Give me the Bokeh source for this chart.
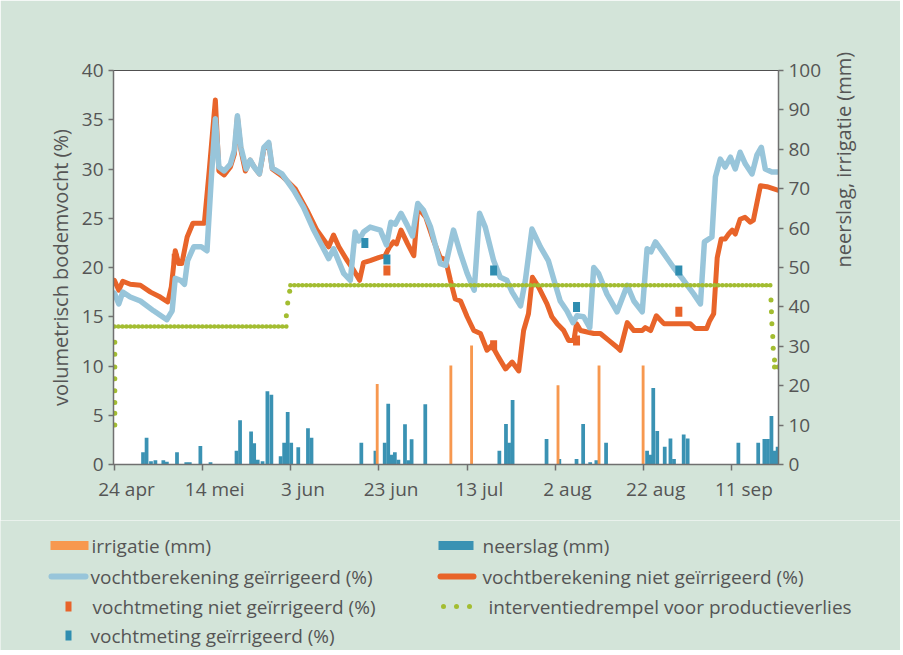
import math
from bokeh.plotting import figure
from bokeh.models import Range1d, LinearAxis, FixedTicker
from bokeh.core.properties import value
from bokeh.embed import file_html
from bokeh.resources import INLINE

# ---------------- data (x = days since 24 apr) ----------------
tick_days = [0, 20, 40, 60, 80, 100, 120, 140]
tick_labels = ["24 apr", "14 mei", "3 jun", "23 jun", "13 jul", "2 aug", "22 aug", "11 sep"]

rain_days = [6.5, 7.3, 8.3, 9.3, 11.1, 11.9, 14.2, 16.3, 17.1, 19.5,
             21.8, 27.7, 28.5, 31.0, 31.7, 32.5, 33.6, 34.7, 35.6, 37.7,
             38.5, 39.3, 40.1, 41.7, 43.9, 44.7, 56.0, 59.2, 61.3, 62.1,
             62.9, 63.6, 64.4, 65.9, 66.7, 67.4, 70.5, 87.3, 88.8, 89.5,
             90.3, 98.0, 100.9, 104.8, 106.3, 107.9, 109.3, 111.5, 120.8, 121.5,
             122.2, 123.1, 124.8, 126.1, 126.9, 129.1, 130.0, 141.5, 146.0, 147.4,
             148.2, 149.0, 149.7, 150.4]
rain_mm = [3.1, 6.8, 0.8, 1.1, 1.1, 0.7, 3.1, 0.6, 0.6, 4.7,
           0.6, 3.5, 11.2, 8.4, 5.4, 1.2, 0.8, 18.6, 17.7, 2.1,
           5.5, 13.3, 5.5, 4.4, 9.2, 6.8, 5.5, 3.5, 5.5, 15.4,
           2.5, 3.1, 1.2, 10.2, 1.1, 6.4, 15.3, 3.5, 10.3, 5.5,
           16.4, 6.5, 1.4, 1.4, 10.3, 0.6, 1.1, 5.5, 3.5, 2.5,
           19.4, 8.5, 4.5, 6.6, 1.4, 7.6, 6.6, 5.5, 5.5, 6.5,
           6.5, 12.3, 3.5, 4.5]

irr_days = [59.6, 76.3, 81.0, 100.6, 109.9, 119.9]
irr_mm = [20.4, 25.1, 30.2, 20.1, 25.1, 25.1]

calc_irr_days = [0, 1.0, 1.9, 3.6, 5.9, 8.9, 11.9, 13.1, 13.8, 15.0,
                 15.9, 16.6, 18.0, 19.7, 21.0, 22.0, 22.9, 23.7, 24.9, 26.3,
                 27.2, 27.9, 28.7, 29.9, 30.8, 31.7, 32.9, 33.9, 35.0, 35.8,
                 38.0, 40.7, 42.9, 45.2, 48.6, 49.7, 52.0, 53.5, 54.6, 55.4,
                 56.5, 58.0, 60.3, 61.7, 62.7, 63.7, 65.0, 66.4, 67.6, 68.8,
                 70.1, 71.7, 73.9, 75.1, 76.9, 78.5, 80.0, 81.6, 82.8, 84.1,
                 86.0, 87.5, 89.0, 90.2, 92.1, 93.2, 94.7, 96.6, 98.4, 99.7,
                 101.1, 102.6, 104.0, 104.9, 106.4, 107.8, 108.7, 109.8, 111.7, 114.0,
                 116.3, 117.8, 119.7, 120.8, 121.7, 122.7, 124.6, 126.8, 129.1, 131.4,
                 132.9, 133.8, 135.5, 136.3, 137.4, 138.5, 139.7, 140.8, 141.9, 143.1,
                 144.6, 145.7, 146.7, 147.6, 149.1, 150.8]
calc_irr_vals = [17.4, 16.3, 17.5, 17.0, 16.6, 15.6, 14.7, 15.6, 18.9, 18.7,
                 18.3, 20.7, 22.1, 22.1, 21.7, 29.2, 35.1, 30.2, 29.8, 30.5,
                 31.9, 35.4, 32.2, 30.0, 30.9, 30.2, 29.5, 32.2, 32.7, 30.1,
                 29.5, 27.8, 26.1, 23.8, 20.9, 21.9, 19.4, 18.7, 23.6, 22.7,
                 23.6, 24.1, 23.8, 22.3, 24.6, 24.4, 25.5, 24.3, 23.2, 26.5,
                 25.8, 24.1, 20.4, 20.2, 23.8, 21.4, 19.4, 17.7, 25.5, 24.1,
                 20.7, 19.0, 18.7, 17.5, 16.1, 18.7, 23.9, 22.1, 20.7, 18.7,
                 16.6, 15.6, 14.4, 15.1, 15.0, 13.9, 20.0, 19.4, 17.3, 15.5,
                 18.2, 16.6, 15.5, 21.9, 21.6, 22.6, 21.4, 20.0, 18.7, 17.3,
                 16.3, 22.6, 23.1, 29.2, 31.0, 30.2, 31.2, 30.0, 31.7, 30.5,
                 29.5, 31.4, 32.2, 30.0, 29.7, 29.7]

calc_dry_days = [0, 1.0, 1.9, 3.6, 5.9, 8.2, 10.4, 12.1, 12.9, 13.8,
                 14.6, 15.3, 16.5, 17.8, 20.4, 21.5, 22.9, 23.7, 24.9, 26.3,
                 27.2, 27.9, 28.7, 29.7, 30.8, 31.7, 32.9, 33.9, 35.0, 35.8,
                 38.0, 41.0, 43.7, 45.9, 48.6, 49.7, 50.9, 52.8, 54.3, 55.6,
                 56.5, 58.0, 59.9, 61.4, 62.4, 63.3, 64.0, 65.0, 66.5, 67.9,
                 68.8, 70.6, 72.4, 73.9, 75.1, 76.2, 77.3, 78.5, 80.0, 81.5,
                 83.0, 84.5, 85.6, 87.1, 88.7, 90.2, 91.7, 92.8, 93.9, 94.8,
                 96.2, 98.1, 99.2, 100.4, 101.9, 103.0, 104.2, 104.8, 105.7, 108.7,
                 110.2, 112.1, 114.0, 114.7, 116.3, 117.8, 119.7, 120.4, 121.6, 122.9,
                 124.6, 130.6, 131.7, 134.3, 135.0, 135.9, 136.7, 137.6, 138.5, 139.3,
                 140.1, 140.8, 141.9, 143.0, 144.2, 144.9, 146.5, 148.0, 150.8]
calc_dry_vals = [18.7, 17.7, 18.6, 18.3, 18.2, 17.5, 17.0, 16.5, 18.0, 21.7,
                 20.4, 20.4, 23.1, 24.5, 24.5, 29.8, 37.0, 29.8, 29.4, 30.2,
                 31.5, 35.3, 31.9, 29.8, 30.9, 30.2, 29.5, 32.0, 32.6, 30.0,
                 29.3, 28.0, 25.8, 23.8, 22.1, 23.3, 22.1, 20.7, 19.7, 18.7,
                 20.5, 20.7, 21.0, 21.2, 22.1, 22.6, 22.4, 23.8, 22.4, 21.2,
                 26.1, 25.1, 22.7, 21.0, 20.8, 18.7, 16.8, 16.6, 15.0, 13.6,
                 13.3, 11.6, 12.1, 10.9, 9.7, 10.4, 9.5, 13.6, 15.3, 19.0,
                 18.0, 16.3, 15.0, 14.3, 13.6, 12.6, 12.6, 14.3, 13.6, 13.3,
                 13.3, 12.6, 11.9, 11.6, 14.4, 13.6, 13.6, 13.9, 13.6, 15.1,
                 14.3, 14.3, 13.8, 13.8, 14.6, 15.3, 21.0, 22.9, 22.9, 23.4,
                 23.8, 23.4, 24.9, 25.1, 24.6, 24.8, 28.3, 28.2, 27.8]

meas_irr_days = [56.8, 61.8, 86.0, 104.8, 128.0]
meas_irr_vals = [22.5, 20.8, 19.7, 16.0, 19.7]
meas_dry_days = [13.8, 61.8, 86.0, 104.8, 128.0]
meas_dry_vals = [20.9, 19.7, 12.1, 12.6, 15.5]

thr_start = [0.0, 39.9]
thr_end = [39.3, 148.9]
thr_level = [14.0, 18.2]
thr_dot_days = [0.1, 0.1, 0.1, 0.1, 0.1, 0.1, 0.1, 0.1, 39.0, 39.3, 39.75,
                148.9, 149.0, 149.1, 149.3, 149.4, 149.7, 149.7, 150.5]
thr_dot_vals = [12.4, 11.2, 9.9, 8.7, 7.5, 6.3, 5.2, 4.0, 15.1, 16.4, 17.6,
                16.7, 15.5, 14.3, 13.0, 11.8, 10.6, 9.9, 9.9]

legend_labels = ["irrigatie (mm)", "neerslag (mm)",
                 "vochtberekening geïrrigeerd (%)", "vochtberekening niet geïrrigeerd (%)",
                 "vochtmeting niet geïrrigeerd (%)", "interventiedrempel voor productieverlies",
                 "vochtmeting geïrrigeerd (%)"]

# ---------------- styles ----------------
BG = "#D3E4D9"
RAIN = "#3A92B3"
IRR = "#F7984F"
BLUE_LINE = "#98C5DA"
ORANGE_LINE = "#E8642A"
GREEN = "#A3BD31"
MEAS_BLUE = "#2F8DB0"
MEAS_ORANGE = "#E8632A"
TXT = "#555555"
AX = "#707070"
FONT = "Open Sans"
W = 900
LABEL_SHIFT = 2.75   # date labels sit a little to the right of their tick marks

p = figure(width=W, height=520, x_range=Range1d(-0.2, 150.6), y_range=Range1d(0, 40),
           output_backend="svg", toolbar_location=None,
           min_border_left=113, min_border_right=122, min_border_top=70, min_border_bottom=56)
p.extra_y_ranges = {"mm": Range1d(0, 100)}
p.background_fill_color = "white"
p.border_fill_color = BG
p.outline_line_color = "#505050"
p.outline_line_width = 1
p.xgrid.grid_line_color = None
p.ygrid.grid_line_color = None

right = LinearAxis(y_range_name="mm", axis_label="neerslag, irrigatie (mm)")
p.add_layout(right, "right")

xmain = p.xaxis[0]
p.yaxis[0].axis_label = "volumetrisch bodemvocht (%)"
p.yaxis[0].ticker = FixedTicker(ticks=[0, 5, 10, 15, 20, 25, 30, 35, 40])
right.ticker = FixedTicker(ticks=[0, 10, 20, 30, 40, 50, 60, 70, 80, 90, 100])
xmain.ticker = FixedTicker(ticks=tick_days)

for ax in [xmain, p.yaxis[0], right]:
    ax.axis_line_color = AX
    ax.axis_line_width = 1.5
    ax.major_tick_line_color = AX
    ax.major_tick_line_width = 1.5
    ax.major_tick_out = 5
    ax.major_tick_in = 0
    ax.minor_tick_line_color = None
    ax.major_label_text_font = FONT
    ax.major_label_text_font_size = "19px"
    ax.major_label_text_color = TXT
    ax.major_label_standoff = 5
    ax.axis_label_text_font = FONT
    ax.axis_label_text_font_size = "20px"
    ax.axis_label_text_font_style = "normal"
    ax.axis_label_text_color = TXT
# the main x axis only carries the tick marks; its labels are not painted
xmain.major_tick_out = 6
xmain.major_label_text_font_size = "1px"
xmain.major_label_text_color = None
xmain.major_label_text_alpha = 0
xmain.major_label_standoff = 0
p.yaxis[0].axis_label_standoff = 5
right.axis_label_standoff = 19
right.axis_label_orientation = math.pi / 2

# date labels (second, line-less axis so that labels sit right of the ticks)
label_pos = [d + LABEL_SHIFT for d in tick_days]
xlab = LinearAxis(ticker=FixedTicker(ticks=label_pos),
                  major_label_overrides={x: l for x, l in zip(label_pos, tick_labels)},
                  axis_line_color=None, major_tick_line_color=None,
                  minor_tick_line_color=None, major_tick_out=0, major_tick_in=0,
                  major_label_standoff=5, major_label_text_font=FONT,
                  major_label_text_font_size="19px", major_label_text_color=TXT)
p.add_layout(xlab, "below")

# bars
p.vbar(x=rain_days, top=rain_mm, width=0.85, bottom=0, y_range_name="mm",
       fill_color=RAIN, line_color=None)
p.vbar(x=irr_days, top=irr_mm, width=0.65, bottom=0, y_range_name="mm",
       fill_color=IRR, line_color=None)

# lines
p.line(calc_dry_days, calc_dry_vals, line_color=ORANGE_LINE, line_width=5,
       line_join="round", line_cap="round")
p.line(calc_irr_days, calc_irr_vals, line_color=BLUE_LINE, line_width=5.5,
       line_join="round", line_cap="round")

# threshold
p.segment(x0=thr_start, y0=thr_level, x1=thr_end, y1=thr_level, line_color=GREEN,
          line_width=4.5, line_dash="0 4", line_cap="round")
p.scatter(thr_dot_days, thr_dot_vals, size=5, fill_color=GREEN, line_color=None)

# measurements
p.rect(x=meas_dry_days, y=meas_dry_vals, width=7, height=10, width_units="screen",
       height_units="screen", fill_color=MEAS_ORANGE, line_color=None)
p.rect(x=meas_irr_days, y=meas_irr_vals, width=7, height=10, width_units="screen",
       height_units="screen", fill_color=MEAS_BLUE, line_color=None)

# ---------------- legend panel (pixel coordinates) ----------------
H2 = 130
q = figure(width=W, height=H2, x_range=Range1d(0, W), y_range=Range1d(H2, 0),
           output_backend="svg", toolbar_location=None,
           x_axis_location=None, y_axis_location=None, min_border=0)
q.background_fill_color = BG
q.border_fill_color = BG
q.outline_line_color = None
q.grid.visible = False

q.rect(x=[69], y=[25], width=38, height=9, fill_color=IRR, line_color=None)
q.rect(x=[455.5], y=[25], width=35, height=9, fill_color=RAIN, line_color=None)
q.line(x=[51, 85], y=[56, 56], line_color=BLUE_LINE, line_width=6, line_cap="round")
q.line(x=[440, 473], y=[56, 56], line_color=ORANGE_LINE, line_width=6, line_cap="round")
q.rect(x=[68], y=[86], width=6, height=10, fill_color=MEAS_ORANGE, line_color=None)
q.scatter(x=[443, 456, 469], y=[86, 86, 86], size=5, fill_color=GREEN, line_color=None)
q.rect(x=[68], y=[115], width=6, height=10, fill_color=MEAS_BLUE, line_color=None)

q.text(x=[91, 482, 90, 482, 92, 488, 90], y=[25, 25, 56, 56, 86, 86, 115],
       text=legend_labels, text_font=value(FONT), text_font_size=value("19px"),
       text_color=TXT, text_baseline="middle", text_align="left")

open("out.html", "w").write(file_html([p, q], INLINE))
